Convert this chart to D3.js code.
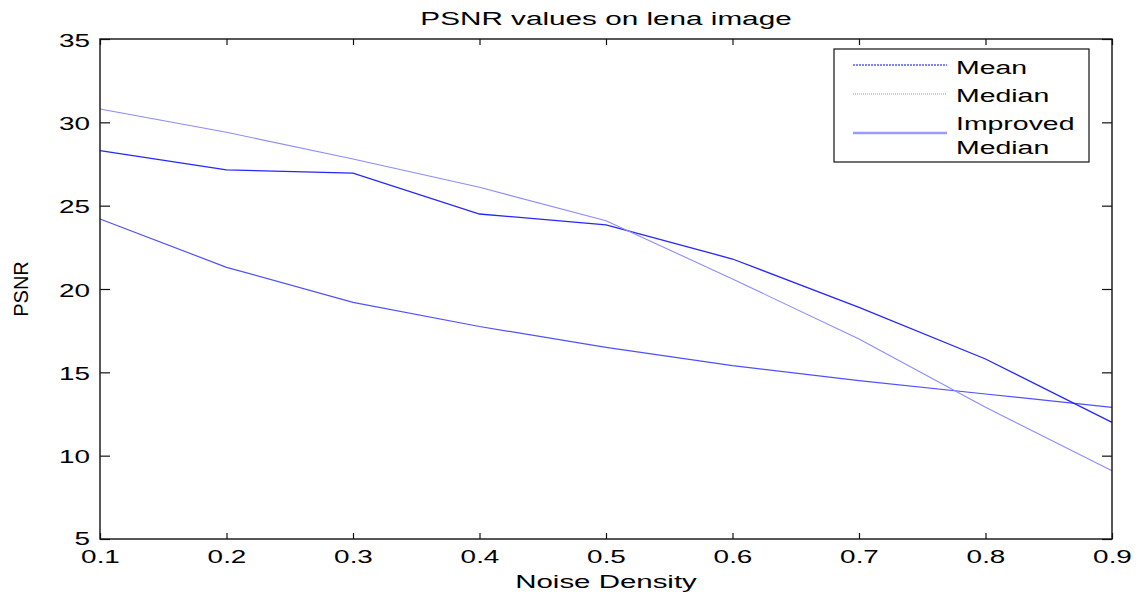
<!DOCTYPE html>
<html>
<head>
<meta charset="utf-8">
<script src="https://cdn.jsdelivr.net/npm/d3@7"></script>
<style>
  body { margin: 0; background: #fff; }
  text { font-family: 'Liberation Sans', Arial, sans-serif; fill: #000; }
</style>
</head>
<body>
<div class="canvas"></div>
<script>
// data
const noiseDensity = [0.1, 0.2, 0.3, 0.4, 0.5, 0.6, 0.7, 0.8, 0.9];
const meanPsnr = [24.2, 21.3, 19.2, 17.75, 16.5, 15.4, 14.5, 13.7, 12.9];
const medianPsnr = [28.3, 27.15, 26.95, 24.5, 23.85, 21.8, 18.9, 15.8, 12.0];
const improvedPsnr = [30.8, 29.4, 27.8, 26.1, 24.1, 20.6, 17.0, 12.9, 9.1];
const xTicks = [0.1, 0.2, 0.3, 0.4, 0.5, 0.6, 0.7, 0.8, 0.9];
const yTicks = [5, 10, 15, 20, 25, 30, 35];
const seriesNames = ['Mean', 'Median', 'Improved Median'];

const width = 1141;
const height = 599;

const svg = d3.select('.canvas')
  .append('svg')
  .attr('width', width)
  .attr('height', height);

/*--------------------------------
  SETUP
--------------------------------*/
const margin = { top: 39, right: 29, bottom: 60, left: 100 };
const graphWidth = width - margin.left - margin.right;
const graphHeight = height - margin.top - margin.bottom;

const graph = svg.append('g')
  .attr('transform', `translate(${margin.left}, ${margin.top})`);

const x = d3.scaleLinear().domain([0.1, 0.9]).range([0, graphWidth]);
const y = d3.scaleLinear().domain([5, 35]).range([graphHeight, 0]);

// wide-looking glyphs of the original
const stretch = 1.55;

/*--------------------------------
  LINES
--------------------------------*/
const series = [
  { name: 'Mean', values: meanPsnr, color: '#5050ff', w: 1.2 },
  { name: 'Median', values: medianPsnr, color: '#2626ff', w: 1.3 },
  { name: 'Improved Median', values: improvedPsnr, color: '#8c8cff', w: 1.1 },
];

const line = d3.line()
  .x(d => x(d.x))
  .y(d => y(d.y));

graph.selectAll('path.series')
  .data(series)
  .enter()
  .append('path')
  .attr('class', 'series')
  .attr('fill', 'none')
  .attr('stroke', d => d.color)
  .attr('stroke-width', d => d.w)
  .attr('d', d => line(d.values.map((v, i) => ({ x: noiseDensity[i], y: v }))));

/*--------------------------------
  AXES (matlab box, inward ticks)
--------------------------------*/
const styleAxis = (g) => {
  g.select('.domain').remove();
  g.selectAll('.tick line').attr('stroke', '#111').attr('stroke-width', 1.2);
};

const xAxisBottom = graph.append('g')
  .attr('transform', `translate(0, ${graphHeight})`)
  .call(d3.axisBottom(x).tickValues(xTicks).tickSize(-6).tickFormat(d3.format('.1f')));
styleAxis(xAxisBottom);
xAxisBottom.selectAll('.tick text')
  .attr('y', null).attr('dy', null)
  .attr('font-size', 18)
  .attr('transform', `translate(0, 24) scale(${stretch}, 1)`);

const xAxisTop = graph.append('g')
  .call(d3.axisTop(x).tickValues(xTicks).tickSize(-6).tickFormat(''));
styleAxis(xAxisTop);

const yAxisLeft = graph.append('g')
  .call(d3.axisLeft(y).tickValues(yTicks).tickSize(-10));
styleAxis(yAxisLeft);
yAxisLeft.selectAll('.tick text')
  .attr('x', null).attr('dy', null)
  .attr('font-size', 18)
  .attr('dominant-baseline', 'central')
  .attr('transform', d => `translate(-10, ${d === 5 ? -1 : 1}) scale(${stretch}, 1)`);

const yAxisRight = graph.append('g')
  .attr('transform', `translate(${graphWidth}, 0)`)
  .call(d3.axisRight(y).tickValues(yTicks).tickSize(-10).tickFormat(''));
styleAxis(yAxisRight);

// box
graph.append('rect')
  .attr('width', graphWidth)
  .attr('height', graphHeight)
  .attr('fill', 'none')
  .attr('stroke', '#111')
  .attr('stroke-width', 1.4);

/*--------------------------------
  LABELS
--------------------------------*/
svg.append('text')
  .attr('text-anchor', 'middle')
  .attr('font-size', 18)
  .attr('transform', `translate(${margin.left + graphWidth / 2}, 25) scale(${stretch + 0.1}, 1)`)
  .text('PSNR values on lena image');

svg.append('text')
  .attr('text-anchor', 'middle')
  .attr('font-size', 19)
  .attr('transform', `translate(${margin.left + graphWidth / 2}, 588) scale(${stretch}, 1)`)
  .text('Noise Density');

svg.append('text')
  .attr('text-anchor', 'middle')
  .attr('font-size', 20)
  .attr('transform', `translate(28, 289) rotate(-90) scale(1, 1.05)`)
  .text('PSNR');

/*--------------------------------
  LEGEND
--------------------------------*/
const legend = svg.append('g').attr('transform', 'translate(834, 49)');

legend.append('rect')
  .attr('width', 255)
  .attr('height', 113)
  .attr('fill', '#fff')
  .attr('stroke', '#111')
  .attr('stroke-width', 1.2);

const legendItems = [
  { color: '#5a5aff', w: 1.3, dash: '2,1', ly: 16 },
  { color: '#8a8aff', w: 1, dash: '1,1', ly: 45 },
  { color: '#9a9aff', w: 2.5, dash: null, ly: 84 },
];

legendItems.forEach((item) => {
  legend.append('line')
    .attr('x1', 19).attr('x2', 113)
    .attr('y1', item.ly).attr('y2', item.ly)
    .attr('stroke', item.color)
    .attr('stroke-width', item.w)
    .attr('stroke-dasharray', item.dash);
});

const legendLabels = [
  { t: seriesNames[0], by: 25 },
  { t: seriesNames[1], by: 53 },
  { t: 'Improved', by: 81 },
  { t: 'Median', by: 105 },
];

legendLabels.forEach((l) => {
  legend.append('text')
    .attr('font-size', 18)
    .attr('transform', `translate(122, ${l.by}) scale(1.58, 1)`)
    .text(l.t);
});
</script>
</body>
</html>
